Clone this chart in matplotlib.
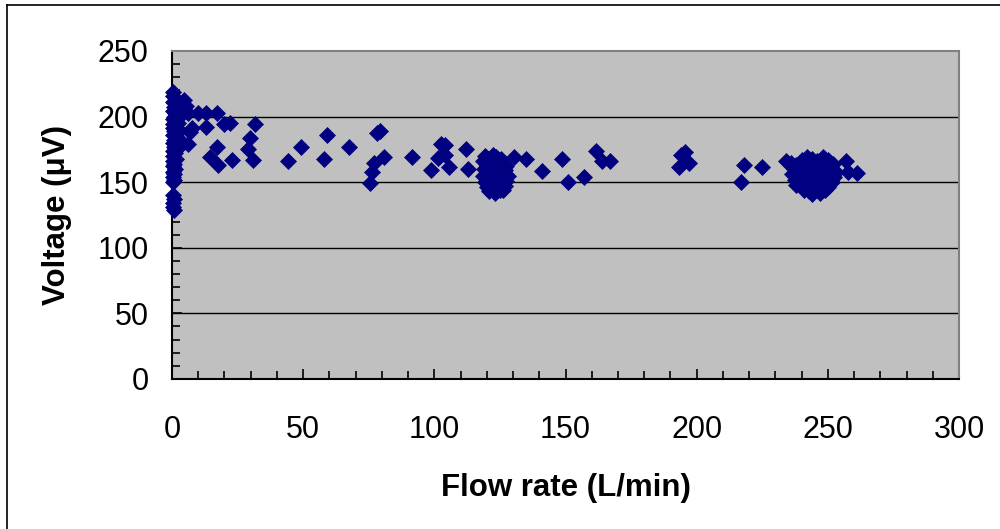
import matplotlib
matplotlib.use("Agg")
import matplotlib.pyplot as plt
from matplotlib.ticker import MultipleLocator
from matplotlib.lines import Line2D

plt.rcParams['font.family'] = ['Liberation Sans', 'DejaVu Sans']

# Near-zero flow column
x_zero = [0.2, 0.5, 1.0, 0.3, 1.5, 0.8, 2.0, 0.4, 1.2, 2.5, 0.6, 1.8, 0.2, 1.0, 2.2, 0.5, 1.4, 0.3,
          2.8, 0.9, 1.6, 0.2, 1.1, 2.4, 0.7, 1.9, 0.4, 1.3, 0.6, 2.1, 0.3, 1.0, 0.5, 1.7, 0.2, 0.8,
          0.4, 1.2, 0.3, 0.6, 0.2, 0.9, 0.5, 0.3, 0.7, 0.4, 0.2, 0.6]
y_zero = [219, 216, 213, 211, 209, 207, 206, 204, 203, 202, 200, 199, 198, 196, 195, 194, 192, 191,
          190, 189, 187, 186, 185, 184, 182, 181, 180, 178, 177, 176, 174, 172, 170, 168, 166, 164,
          162, 160, 158, 156, 154, 152, 150, 140, 137, 134, 131, 129]

# Scattered points
x_mid = [4.5, 5.5, 3.5, 6.0, 7.5, 10, 13, 17, 13, 20, 22, 31.6, 7, 6, 17, 14.5, 17.5, 23, 29.7, 29, 31,
         44.3, 49, 58.9, 58, 67.3, 79.2, 78.2, 80.8, 77, 76.4, 75.6, 91.6, 98.8, 102.7, 103.9, 101.4,
         103.9, 105.5, 112.2, 112.9, 130.3, 135, 141.1, 148.6, 150.9, 157, 161.7, 163.8, 167.1,
         195.7, 194, 197, 193.4, 216.9, 218, 224.9, 234, 256.9, 257.6, 261.3]
y_mid = [213, 208, 201, 203, 191, 203, 203, 203, 192, 194, 195, 194, 188, 179, 177, 169, 163, 167, 184,
         175, 167, 166.4, 176.8, 186.2, 167.6, 176.8, 188.7, 187.4, 169.1, 165, 157.4, 149.3, 169.1,
         159.5, 179, 178.6, 168.8, 171, 161.5, 175.2, 159.9, 169.1, 167.6, 158.2, 167.6, 149.8, 153.9,
         174, 165.8, 165.8, 172.7, 171, 164.6, 161.5, 149.8, 163.3, 161.5, 166, 165.8, 158, 157]

# Cluster near 120 L/min
x_c120 = [118.5, 119.5, 120.5, 121.5, 122.5, 123.5, 124.5, 125.5, 126.5, 127.5, 119, 120, 121, 122,
          123, 124, 125, 126, 127, 128, 118.5, 120, 121.5, 123, 124.5, 126, 127.5, 119.5, 121, 122.5,
          124, 125.5, 127, 120, 122, 124, 126, 121, 123, 125]
y_c120 = [166, 170, 168, 167, 171, 169, 165, 168, 164, 162, 160, 162, 159, 161, 163, 158, 160, 157,
          159, 155, 155, 156, 154, 153, 155, 152, 151, 150, 151, 149, 150, 148, 147, 146, 145, 147,
          144, 143, 142, 144]

# Cluster near 245 L/min
x_c245 = [236, 238, 240, 242, 244, 246, 248, 250, 252, 237, 239, 241, 243, 245, 247, 249, 251, 253,
          236.5, 238.5, 240.5, 242.5, 244.5, 246.5, 248.5, 250.5, 252.5, 237.5, 239.5, 241.5, 243.5,
          245.5, 247.5, 249.5, 251.5, 238, 240, 242, 244, 246, 248, 250, 241, 243, 245, 247, 249, 244]
y_c245 = [165, 163, 167, 169, 168, 166, 169, 167, 164, 160, 162, 161, 163, 160, 162, 161, 160, 158,
          156, 157, 155, 158, 156, 157, 155, 156, 154, 152, 151, 153, 150, 152, 151, 153, 150, 148,
          147, 149, 146, 148, 147, 146, 144, 143, 145, 142, 144, 141]

x_all = x_zero + x_mid + x_c120 + x_c245
y_all = y_zero + y_mid + y_c120 + y_c245

fig = plt.figure(figsize=(10, 5.29), dpi=100)
ax = fig.add_axes([0.172, 0.2836, 0.787, 0.62])
ax.set_facecolor('#c0c0c0')

ax.plot(x_all, y_all, linestyle='none', marker='D', markersize=8.5,
        color='#000080', markeredgecolor='#000080', markeredgewidth=0.5, zorder=3, clip_on=False)

ax.set_xlim(0, 300)
ax.set_ylim(0, 250)
ax.xaxis.set_major_locator(MultipleLocator(50))
ax.xaxis.set_minor_locator(MultipleLocator(10))
ax.yaxis.set_major_locator(MultipleLocator(50))
ax.yaxis.set_minor_locator(MultipleLocator(10))

for yv in [50, 100, 150, 200]:
    ax.axhline(yv, color='black', linewidth=1.0, zorder=1)

ax.spines['left'].set_color('black')
ax.spines['bottom'].set_color('black')
ax.spines['left'].set_linewidth(1.5)
ax.spines['bottom'].set_linewidth(1.5)
ax.spines['top'].set_color('#808080')
ax.spines['right'].set_color('#808080')
ax.spines['top'].set_linewidth(1.5)
ax.spines['right'].set_linewidth(1.5)

ax.tick_params(axis='both', which='major', direction='in', length=7, width=1.2,
               labelsize=22, colors='black')
ax.tick_params(axis='both', which='minor', direction='in', length=6, width=1.2)
ax.tick_params(axis='x', which='major', pad=26)
ax.tick_params(axis='y', which='major', pad=17)

ax.set_xlabel('Flow rate (L/min)', fontsize=22.5, fontweight='bold', labelpad=20)
ax.set_ylabel('Voltage (μV)', fontsize=22.5, fontweight='bold', labelpad=18)

# figure border (left and top edges visible)
fig.add_artist(Line2D([0.007, 0.007], [0, 0.991], transform=fig.transFigure, color='black', linewidth=1.2))
fig.add_artist(Line2D([0.007, 1.0], [0.991, 0.991], transform=fig.transFigure, color='black', linewidth=1.2))

fig.savefig('out.png', dpi=100)
